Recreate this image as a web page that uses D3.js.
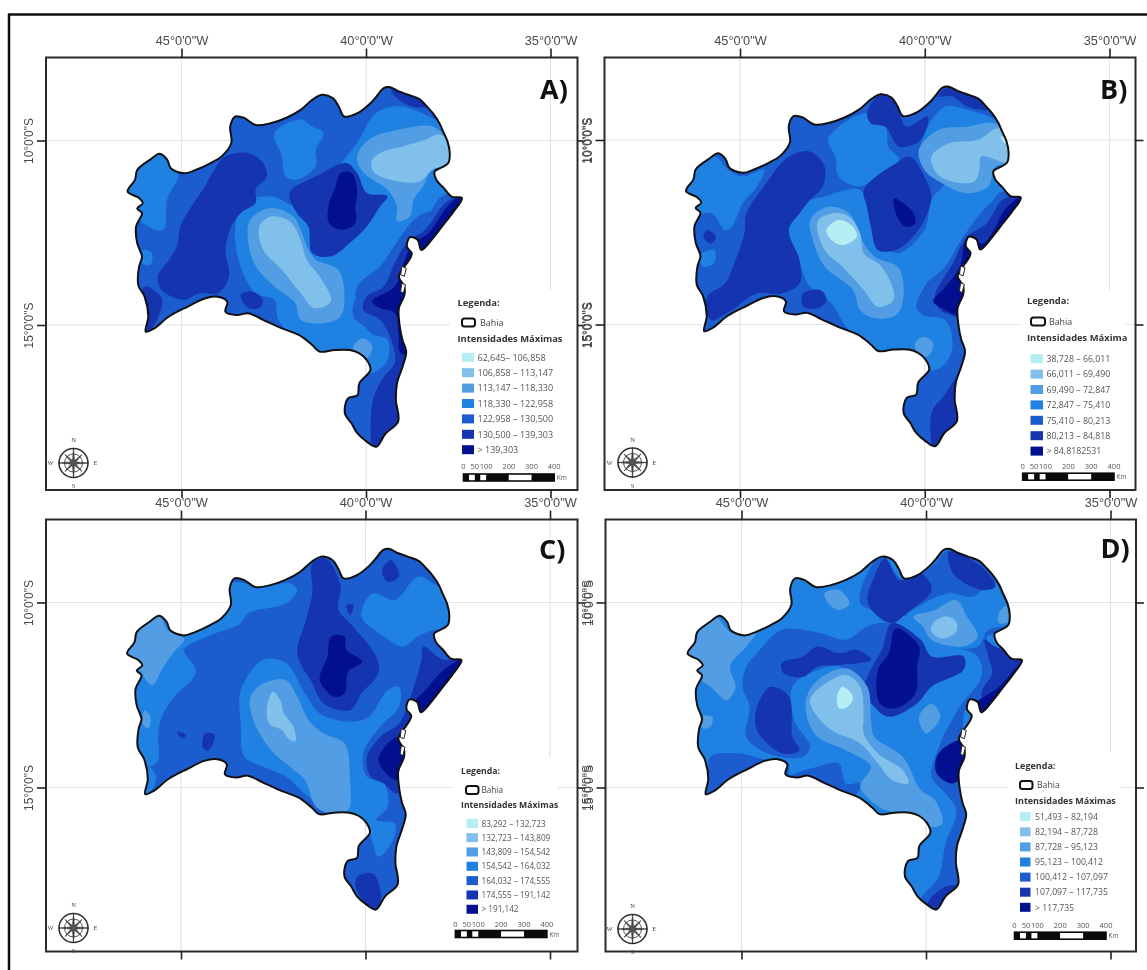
<!DOCTYPE html>
<html>
<head>
<meta charset="utf-8">
<script src="https://cdn.jsdelivr.net/npm/d3@7"></script>
<style>
    html, body { margin: 0; background: #fff; }
    svg { display: block; filter: blur(0.6px); }
</style>
</head>
<body>
<div id="chart"></div>
<script>
// Maximum rainfall intensity over Bahia, four map panels

const lonTicks = [-45, -40, -35];
const latTicks = [-10, -15];

// Legend colours, from lowest to highest class
const levelColors = ["#b4edf2", "#82c0ec", "#529de3", "#1f82e2", "#1b5ccf", "#1534b0", "#02108f"];

// State border in lon / lat
const bahiaOutline = [
    [-39.37,-8.55],[-39.11,-8.67],[-38.86,-8.76],[-38.55,-8.88],[-38.35,-9.08],[-38.19,-9.26],[-38.01,-9.53],[-37.91,-9.76],
    [-37.79,-10.03],[-37.73,-10.34],[-37.77,-10.61],[-37.99,-10.75],[-38.14,-10.84],[-38.09,-11.07],[-37.89,-11.29],[-37.68,-11.52],
    [-37.40,-11.56],[-37.63,-11.93],[-37.94,-12.33],[-38.19,-12.65],[-38.50,-12.97],[-38.60,-12.69],[-38.81,-12.62],[-38.89,-12.88],
    [-38.76,-13.06],[-38.86,-13.28],[-38.96,-13.42],[-39.11,-13.69],[-38.96,-13.96],[-38.96,-14.19],[-39.11,-14.55],[-39.09,-15.0],
    [-39.01,-15.41],[-38.91,-15.72],[-39.01,-16.13],[-39.16,-16.58],[-39.19,-17.03],[-39.13,-17.62],[-39.47,-17.94],[-39.72,-18.30],
    [-39.98,-18.16],[-40.23,-17.94],[-40.39,-17.67],[-40.57,-17.40],[-40.49,-16.99],[-40.23,-16.90],[-40.18,-16.58],[-39.88,-16.22],
    [-39.98,-15.95],[-40.18,-15.77],[-40.44,-15.68],[-40.85,-15.68],[-41.26,-15.72],[-41.46,-15.54],[-41.82,-15.27],[-42.28,-15.09],
    [-42.79,-14.86],[-43.19,-14.68],[-43.50,-14.73],[-43.81,-14.64],[-43.76,-14.37],[-44.06,-14.23],[-44.37,-14.28],[-44.83,-14.50],
    [-45.34,-14.77],[-45.74,-15.09],[-45.97,-15.18],[-45.90,-14.77],[-46.0,-14.23],[-46.17,-13.92],[-46.15,-13.42],[-46.07,-13.15],
    [-46.20,-12.78],[-46.23,-12.33],[-46.07,-11.97],[-46.20,-11.84],[-46.05,-11.70],[-46.15,-11.56],[-46.46,-11.38],[-46.26,-11.07],
    [-46.20,-10.80],[-45.85,-10.52],[-45.59,-10.36],[-45.39,-10.52],[-45.29,-10.75],[-44.93,-10.89],[-44.62,-10.80],[-44.21,-10.61],
    [-43.91,-10.43],[-43.65,-10.07],[-43.68,-9.62],[-43.55,-9.35],[-43.30,-9.39],[-42.99,-9.58],[-42.58,-9.53],[-42.17,-9.39],
    [-41.77,-9.17],[-41.46,-8.90],[-41.20,-8.76],[-40.90,-8.85],[-40.74,-9.08],[-40.59,-9.35],[-40.23,-9.26],[-39.88,-8.99],
    [-39.72,-8.81],[-39.52,-8.58]
];

const coastIslands = [
    [[-39.03,-13.41],[-38.91,-13.46],[-38.96,-13.68],[-39.06,-13.64]],
    [[-39.03,-13.87],[-38.93,-13.91],[-38.99,-14.14],[-39.06,-14.09]]
];

// Class areas: [class index, ring in lon / lat], in painting order
const contoursA = [
    [3, [[-46.56,-10.61],[-45.54,-10.25],[-45.08,-10.88],[-45.39,-11.6],[-45.49,-12.42],[-46.05,-12.24],[-46.56,-11.6]]],
    [3, [[-46.05,-12.96],[-45.8,-13.05],[-45.85,-13.37],[-46.07,-13.32]]],
    [3, [[-42.48,-9.8],[-41.77,-9.43],[-41.46,-9.62],[-41.15,-9.8],[-41.36,-10.25],[-41.36,-10.7],[-41.87,-11.06],[-42.18,-10.97],[-42.28,-10.43]]],
    [3, [[-39.73,-9.25],[-39.12,-9.07],[-38.5,-9.25],[-37.69,-9.8],[-37.38,-10.7],[-37.38,-11.6],[-38.6,-12.06],[-39.12,-12.69],[-39.62,-13.41],[-40.24,-13.96],[-40.24,-14.5],[-39.88,-15.22],[-39.42,-15.4],[-39.42,-15.95],[-39.88,-16.31],[-40.24,-15.85],[-41.26,-15.85],[-41.97,-15.31],[-42.38,-14.86],[-42.48,-14.32],[-42.99,-14.14],[-43.4,-13.41],[-43.55,-12.42],[-43.3,-11.69],[-42.58,-11.51],[-41.77,-11.79],[-40.75,-10.7],[-40.24,-10.07]]],
    [2, [[-40.24,-10.43],[-39.93,-9.98],[-39.12,-9.71],[-38.2,-9.62],[-37.79,-9.98],[-37.58,-10.61],[-38.2,-10.79],[-38.45,-11.24],[-38.71,-11.6],[-38.81,-12.06],[-39.16,-12.19],[-39.16,-11.79],[-39.42,-11.33],[-39.83,-11.06],[-40.13,-10.79]]],
    [1, [[-39.83,-10.52],[-39.52,-10.29],[-39.01,-10.16],[-38.4,-9.98],[-37.99,-9.84],[-37.58,-10.25],[-37.69,-10.61],[-38.2,-10.79],[-38.55,-11.11],[-39.12,-11.11],[-39.62,-10.97],[-39.83,-10.79]]],
    [2, [[-43.14,-12.15],[-42.58,-11.83],[-41.97,-12.06],[-41.77,-12.42],[-41.56,-12.96],[-41.36,-13.23],[-40.75,-13.5],[-40.59,-14.05],[-40.69,-14.77],[-41.15,-14.95],[-41.77,-14.86],[-41.92,-14.41],[-42.48,-13.96],[-42.99,-13.41],[-43.19,-12.78]]],
    [1, [[-42.89,-12.33],[-42.58,-12.06],[-42.07,-12.19],[-41.77,-12.69],[-41.61,-13.23],[-41.26,-13.68],[-40.95,-14.36],[-41.41,-14.54],[-41.77,-14.14],[-42.28,-13.5],[-42.79,-12.96]]],
    [2, [[-40.34,-15.58],[-40.08,-15.36],[-39.83,-15.58],[-39.98,-15.9],[-40.29,-15.85]]],
    [5, [[-43.81,-10.43],[-43.19,-10.34],[-42.79,-10.61],[-42.69,-10.97],[-42.99,-11.33],[-42.99,-11.69],[-43.4,-11.97],[-43.65,-12.33],[-43.81,-12.96],[-43.71,-13.68],[-44.01,-14.14],[-44.52,-14.14],[-44.93,-14.32],[-45.54,-14.05],[-45.64,-13.68],[-45.34,-13.23],[-45.13,-12.87],[-45.03,-12.33],[-44.73,-11.79],[-44.42,-11.33],[-44.11,-10.79]]],
    [5, [[-46.0,-13.96],[-45.54,-14.27],[-45.59,-14.68],[-45.85,-15.13],[-46.1,-15.22]]],
    [5, [[-43.4,-14.18],[-43.09,-14.09],[-42.79,-14.32],[-42.89,-14.54],[-43.19,-14.54]]],
    [5, [[-42.07,-11.42],[-41.36,-10.97],[-40.54,-10.61],[-40.24,-10.88],[-39.98,-11.42],[-39.42,-11.51],[-39.62,-11.79],[-39.98,-12.33],[-40.44,-12.78],[-40.95,-13.14],[-41.46,-13.05],[-41.56,-12.33],[-41.87,-11.97]]],
    [6, [[-40.69,-10.88],[-40.39,-10.88],[-40.24,-11.33],[-40.29,-11.79],[-40.29,-12.24],[-40.64,-12.42],[-41,-12.24],[-41,-11.69],[-40.85,-11.33]]],
    [4, [[-37.3,-11.4],[-37.94,-11.51],[-38.4,-12.15],[-38.96,-12.6],[-39.42,-13.23],[-39.83,-13.96],[-40.24,-14.23],[-40.34,-14.77],[-39.73,-15.22],[-39.27,-15.49],[-39.32,-16.03],[-39.73,-16.4],[-40.13,-16.85],[-40.54,-16.94],[-40.7,-17.48],[-39.73,-18.5],[-38.8,-17.8],[-38.4,-15.76],[-38.4,-13.96],[-37.6,-13.05],[-36.9,-11.3]]],
    [5, [[-37.3,-11.4],[-37.84,-11.69],[-38.4,-12.42],[-38.86,-12.74],[-39.22,-13.32],[-39.52,-13.96],[-39.98,-14.23],[-40.08,-14.59],[-39.62,-14.86],[-39.32,-15.4],[-39.22,-16.03],[-39.52,-16.4],[-39.83,-17.12],[-39.73,-18.5],[-38.8,-17.8],[-38.4,-15.76],[-38.4,-13.96],[-37.6,-13.05],[-36.9,-11.3]]],
    [6, [[-37.3,-11.4],[-37.79,-11.79],[-38.3,-12.51],[-38.76,-12.83],[-39.01,-13.41],[-39.22,-13.96],[-39.83,-14.36],[-39.62,-14.54],[-39.22,-14.68],[-39.12,-15.22],[-39.06,-15.76],[-38.6,-15.76],[-38.4,-13.96],[-37.6,-13.05],[-36.9,-11.3]]],
    [5, [[-39.32,-8.62],[-38.81,-8.76],[-38.3,-9.07],[-38.71,-9.09],[-39.12,-8.89]]]
];

const contoursB = [
    [3, [[-46.47,-10.99],[-45.7,-10.45],[-45.31,-10.81],[-44.93,-10.99],[-44.35,-10.81],[-44.54,-11.26],[-44.93,-11.72],[-45.22,-12.35],[-45.41,-12.44],[-45.75,-11.99],[-46.32,-11.99]]],
    [3, [[-46.13,-13.16],[-45.7,-12.98],[-45.7,-13.34],[-45.99,-13.43]]],
    [3, [[-42.62,-10.0],[-42.33,-9.64],[-41.56,-9.27],[-41.07,-9.55],[-40.98,-10.18],[-40.69,-10.54],[-41.07,-10.81],[-41.75,-11.26],[-42.33,-10.99],[-42.42,-10.45]]],
    [3, [[-39.44,-9.09],[-38.86,-9.18],[-38.09,-9.45],[-37.61,-9.91],[-37.32,-10.63],[-37.7,-11.35],[-38.33,-11.81],[-38.95,-12.62],[-39.44,-13.43],[-40.01,-13.98],[-40.11,-14.7],[-39.44,-14.88],[-39.24,-15.51],[-39.44,-16.06],[-39.82,-16.24],[-40.4,-15.78],[-41.36,-15.78],[-42.13,-15.06],[-42.52,-14.43],[-43.1,-13.98],[-43.39,-13.34],[-43.68,-12.35],[-43.29,-11.72],[-42.71,-11.53],[-41.75,-11.35],[-41.46,-12.17],[-40.78,-13.07],[-40.01,-12.44],[-39.82,-11.62],[-39.44,-11.08],[-40.11,-10.45],[-39.92,-9.64]]],
    [2, [[-40.16,-10.27],[-39.63,-9.73],[-38.86,-9.64],[-38.09,-9.55],[-37.65,-10.0],[-37.65,-10.63],[-38.09,-10.72],[-38.28,-11.26],[-38.86,-11.44],[-39.53,-11.17],[-40.01,-10.81]]],
    [1, [[-39.82,-10.45],[-39.34,-10.09],[-38.57,-10.0],[-37.99,-9.68],[-37.56,-10.09],[-37.65,-10.63],[-38.47,-10.45],[-38.52,-10.81],[-38.67,-11.13],[-39.24,-11.13],[-39.68,-10.9]]],
    [0, [[-37.94,-9.91],[-37.7,-10.0],[-37.78,-10.13]]],
    [2, [[-43.1,-12.17],[-42.62,-11.81],[-42.04,-11.99],[-41.7,-12.71],[-41.36,-13.16],[-40.69,-13.48],[-40.59,-14.34],[-40.78,-14.74],[-41.36,-14.83],[-41.75,-14.61],[-41.94,-14.07],[-42.71,-13.43],[-43.0,-12.8]]],
    [1, [[-42.9,-12.21],[-42.52,-11.99],[-42.04,-12.08],[-41.75,-12.53],[-41.65,-13.07],[-41.17,-13.43],[-40.83,-14.16],[-40.88,-14.38],[-41.27,-14.52],[-41.65,-14.07],[-42.23,-13.43],[-42.71,-12.98]]],
    [0, [[-42.66,-12.44],[-42.33,-12.17],[-41.94,-12.35],[-41.84,-12.62],[-42.23,-12.85],[-42.52,-12.71]]],
    [2, [[-40.26,-15.51],[-40.01,-15.33],[-39.77,-15.51],[-39.92,-15.87],[-40.16,-15.83]]],
    [5, [[-41.56,-9.27],[-41.27,-8.82],[-40.88,-8.78],[-40.69,-9.27],[-40.5,-9.64],[-39.92,-9.36],[-40.11,-10.0],[-40.69,-10.18],[-41.07,-9.64],[-41.46,-9.55]]],
    [5, [[-45.89,-12.44],[-45.65,-12.62],[-45.79,-12.8],[-45.99,-12.62]]],
    [5, [[-43.68,-10.45],[-43.1,-10.31],[-42.71,-10.72],[-42.76,-11.26],[-43.1,-11.62],[-43.39,-11.99],[-43.68,-12.44],[-43.39,-13.25],[-43.39,-13.89],[-43.87,-14.16],[-44.54,-14.16],[-45.22,-14.61],[-45.79,-14.88],[-45.89,-14.25],[-45.41,-13.89],[-45.12,-13.25],[-44.88,-12.53],[-44.83,-11.99],[-44.35,-11.26]]],
    [5, [[-43.29,-14.16],[-42.81,-14.07],[-42.66,-14.34],[-42.9,-14.56],[-43.29,-14.52]]],
    [5, [[-41.65,-11.35],[-40.78,-10.63],[-40.4,-10.45],[-40.01,-10.99],[-39.82,-11.53],[-40.01,-12.17],[-40.4,-12.71],[-40.78,-12.98],[-41.27,-12.98],[-41.46,-12.35],[-41.56,-11.81]]],
    [6, [[-40.83,-11.58],[-40.64,-11.67],[-40.3,-11.99],[-40.26,-12.26],[-40.54,-12.35],[-40.78,-11.99]]],
    [4, [[-37.2,-11.4],[-37.99,-11.44],[-38.38,-12.08],[-38.95,-12.62],[-39.44,-13.43],[-40.11,-14.16],[-40.21,-14.61],[-39.44,-14.88],[-39.24,-15.6],[-39.44,-16.15],[-39.82,-16.42],[-39.82,-16.69],[-40.5,-16.87],[-40.7,-17.32],[-39.68,-18.5],[-38.7,-17.8],[-38.4,-15.78],[-38.4,-14.16],[-37.6,-13],[-36.9,-11.3]]],
    [5, [[-37.2,-11.4],[-37.89,-11.62],[-38.33,-12.26],[-38.86,-12.62],[-39.24,-13.34],[-39.73,-14.25],[-39.58,-14.61],[-39.05,-14.88],[-38.86,-15.78],[-39.44,-16.87],[-39.82,-17.41],[-39.68,-18.5],[-38.7,-17.8],[-38.4,-15.78],[-38.4,-14.16],[-37.6,-13],[-36.9,-11.3]]],
    [6, [[-37.2,-11.4],[-37.8,-11.85],[-38.18,-12.53],[-38.42,-12.8],[-38.86,-12.71],[-39.05,-13.43],[-39.44,-13.98],[-39.77,-14.38],[-39.44,-14.61],[-38.95,-14.8],[-38.5,-14.5],[-37.8,-13.1],[-36.9,-11.3]]],
    [5, [[-39.34,-8.55],[-38.67,-8.82],[-38.18,-9.18],[-38.86,-9.09],[-39.24,-8.82],[-39.63,-8.82]]]
];

const contoursC = [
    [3, [[-43.63,-9.48],[-42.77,-9.57],[-42.05,-9.48],[-41.85,-9.66],[-42.15,-10.02],[-43.18,-10.29],[-43.38,-10.56],[-44.3,-10.92],[-44.91,-11.28],[-44.6,-11.82],[-44.71,-12.1],[-45.11,-12.46],[-45.52,-13.09],[-45.62,-13.63],[-45.62,-14.26],[-45.88,-14.44],[-46.34,-13.99],[-46.54,-11.28],[-45.62,-10.29],[-44.81,-10.83],[-43.79,-10.11]]],
    [3, [[-45.88,-14.44],[-45.68,-14.71],[-45.88,-15.2],[-46.08,-15.2]]],
    [2, [[-46.49,-11.28],[-45.62,-10.29],[-45.37,-10.74],[-44.91,-10.97],[-45.22,-11.37],[-45.52,-11.82],[-45.78,-12.23],[-46.13,-11.82]]],
    [2, [[-45.98,-12.91],[-45.83,-13.09],[-45.88,-13.4],[-46.05,-13.27]]],
    [3, [[-40.11,-10.38],[-39.81,-9.75],[-39.2,-9.93],[-38.58,-9.3],[-38.18,-9.48],[-37.56,-10.02],[-37.56,-10.65],[-38.18,-10.74],[-38.58,-10.92],[-38.99,-11.19],[-39.5,-10.92]]],
    [3, [[-43.38,-12.37],[-42.77,-11.55],[-42.15,-11.64],[-41.64,-12.46],[-41.24,-13.0],[-40.42,-13.22],[-39.91,-13.09],[-39.4,-12.37],[-39.09,-12.28],[-39.09,-12.82],[-39.6,-13.36],[-40.06,-14.08],[-39.96,-14.71],[-39.5,-14.89],[-39.4,-15.52],[-39.71,-15.88],[-39.2,-15.97],[-39.3,-16.51],[-39.65,-16.87],[-39.86,-16.33],[-40.11,-15.88],[-40.93,-15.74],[-41.75,-15.07],[-42.15,-14.71],[-42.77,-14.44],[-43.28,-14.17],[-43.38,-13.27]]],
    [2, [[-43.12,-12.55],[-42.77,-12.19],[-42.15,-12.1],[-41.85,-12.55],[-41.54,-13.18],[-41.13,-13.54],[-40.57,-13.81],[-40.42,-14.8],[-40.47,-15.61],[-40.93,-15.7],[-41.34,-15.52],[-41.64,-14.8],[-42.05,-14.44],[-42.56,-13.99],[-42.87,-13.54],[-43.07,-13.09]]],
    [1, [[-42.67,-12.82],[-42.51,-12.41],[-42.31,-12.64],[-42.21,-13.0],[-41.95,-13.36],[-41.9,-13.76],[-42.1,-13.67],[-42.26,-13.45],[-42.61,-13.27]]],
    [5, [[-41.44,-8.94],[-41.08,-8.81],[-40.68,-9.53],[-40.73,-10.2],[-40.42,-10.56],[-39.71,-11.46],[-39.65,-11.91],[-40.11,-12.46],[-40.42,-12.91],[-41.13,-12.73],[-41.44,-12.19],[-41.85,-11.37],[-41.64,-10.56],[-41.44,-9.75]]],
    [5, [[-39.3,-8.85],[-39.09,-9.3],[-39.4,-9.44],[-39.55,-9.12]]],
    [5, [[-40.52,-10.07],[-40.32,-10.07],[-40.42,-10.34]]],
    [5, [[-45.11,-13.49],[-44.86,-13.58],[-44.96,-13.67]]],
    [5, [[-44.35,-13.54],[-44.09,-13.58],[-44.25,-13.99],[-44.4,-13.94]]],
    [6, [[-40.93,-10.92],[-40.57,-10.92],[-40.52,-11.28],[-40.09,-11.6],[-40.47,-11.87],[-40.57,-12.46],[-40.83,-12.55],[-41.24,-12.1],[-41.03,-11.46]]],
    [5, [[-37.2,-11.4],[-37.87,-11.55],[-38.43,-11.19],[-38.48,-11.55],[-38.69,-12.28],[-38.84,-12.73],[-39.09,-13.27],[-39.6,-13.63],[-39.96,-14.17],[-39.86,-14.71],[-39.5,-14.89],[-39.14,-15.16],[-38.5,-14.8],[-38.2,-13.5],[-37.4,-12.8],[-36.9,-11.3]]],
    [6, [[-37.2,-11.4],[-37.87,-11.82],[-38.38,-12.37],[-38.69,-12.73],[-38.48,-13.0],[-37.8,-13.0],[-36.9,-11.3]]],
    [6, [[-39.4,-13.81],[-39.09,-13.63],[-38.7,-14.1],[-39.14,-14.8],[-39.4,-14.66],[-39.65,-14.26]]],
    [5, [[-40.22,-17.41],[-39.81,-17.32],[-39.6,-17.77],[-39.65,-18.36],[-40.01,-18.13],[-40.27,-17.68]]]
];

const contoursD = [
    [2, [[-46.56,-11.37],[-45.74,-10.38],[-45.26,-10.83],[-44.58,-10.74],[-44.87,-11.19],[-45.31,-11.73],[-45.16,-12.28],[-45.4,-12.64],[-45.84,-12.28],[-46.22,-12.01],[-46.42,-11.64]]],
    [2, [[-46.11,-13.09],[-45.79,-13.09],[-45.84,-13.36],[-46.05,-13.4]]],
    [2, [[-42.75,-9.75],[-42.36,-9.66],[-42.07,-10.02],[-42.36,-10.2],[-42.65,-10.02]]],
    [4, [[-44.58,-11.37],[-43.91,-10.74],[-42.85,-10.83],[-42.17,-11.01],[-41.59,-10.65],[-41.01,-10.56],[-40.72,-10.74],[-41.49,-12.01],[-41.59,-12.55],[-41.88,-12.1],[-42.36,-11.73],[-43.14,-11.91],[-43.62,-12.28],[-43.57,-13.18],[-43.14,-13.9],[-43.33,-14.17],[-44.29,-14.08],[-44.87,-13.63],[-44.78,-12.82],[-44.97,-12.28],[-44.87,-11.73]]],
    [4, [[-45.84,-14.17],[-45.07,-14.08],[-44.29,-14.26],[-43.76,-14.3],[-43.76,-14.71],[-44.39,-14.35],[-45.26,-14.71],[-46.08,-15.29],[-45.93,-14.71]]],
    [4, [[-42.94,-14.44],[-42.36,-14.35],[-42.17,-14.89],[-41.78,-14.89],[-41.98,-15.25],[-42.94,-14.8],[-43.71,-14.71]]],
    [4, [[-41.78,-10.02],[-41.2,-8.72],[-40.63,-9.39],[-39.85,-9.03],[-39.37,-8.58],[-38.31,-9.03],[-37.63,-10.02],[-37.59,-10.74],[-38.36,-10.92],[-38.12,-11.28],[-37.3,-11.6],[-38.21,-12.91],[-38.89,-12.82],[-38.84,-15.07],[-38.84,-15.97],[-39.03,-16.87],[-39.03,-17.68],[-39.71,-18.45],[-40.19,-18.13],[-39.66,-17.41],[-39.47,-16.51],[-39.18,-15.61],[-39.56,-15.07],[-39.85,-14.71],[-39.61,-13.81],[-39.08,-12.82],[-38.5,-12.01],[-38.6,-11.46],[-39.27,-11.19],[-39.85,-11.01],[-40.53,-10.38]]],
    [3, [[-40.53,-10.38],[-40.05,-10.02],[-39.37,-9.75],[-38.7,-9.84],[-38.21,-9.39],[-37.87,-9.93],[-37.59,-10.56],[-38.31,-10.74],[-38.6,-11.19],[-39.47,-11.19],[-39.95,-11.01],[-40.34,-10.74]]],
    [2, [[-40.34,-10.38],[-39.76,-10.2],[-39.18,-9.93],[-38.89,-10.38],[-38.6,-10.92],[-38.98,-11.19],[-39.85,-11.01],[-40.09,-10.65]]],
    [1, [[-39.81,-10.56],[-39.47,-10.37],[-39.18,-10.52],[-39.18,-10.79],[-39.56,-10.97],[-39.85,-10.79]]],
    [2, [[-38.02,-10.29],[-37.78,-10.07],[-37.68,-10.47],[-38.02,-10.56]]],
    [5, [[-41.59,-9.93],[-41.4,-9.3],[-41.11,-8.81],[-40.72,-9.39],[-40.14,-9.21],[-39.85,-9.66],[-40.53,-10.29],[-40.92,-10.56],[-41.4,-10.29]]],
    [5, [[-39.37,-8.63],[-38.5,-9.03],[-38.12,-9.57],[-38.5,-9.66],[-39.27,-9.21]]],
    [5, [[-40.92,-10.56],[-40.14,-11.01],[-39.85,-11.46],[-38.98,-11.46],[-38.98,-11.82],[-39.85,-12.28],[-40.24,-12.73],[-41.01,-13.09],[-41.4,-12.82],[-41.69,-12.37],[-41.59,-12.01],[-41.2,-11.28]]],
    [5, [[-44.58,-12.82],[-44.2,-12.28],[-43.71,-12.55],[-43.62,-13.63],[-43.43,-13.99],[-43.91,-14.08],[-44.58,-13.45]]],
    [5, [[-43.91,-11.64],[-43.33,-11.46],[-42.94,-11.19],[-42.36,-11.37],[-41.88,-11.28],[-41.49,-11.55],[-42.36,-11.69],[-42.94,-11.73],[-43.33,-12.01],[-43.86,-11.91]]],
    [5, [[-38.41,-11.01],[-38.12,-11.19],[-37.3,-11.45],[-36.9,-11.3],[-37.5,-13],[-38.21,-13.1],[-38.5,-12.46],[-38.21,-11.91],[-38.31,-11.46]]],
    [5, [[-39.47,-17.68],[-39.08,-17.68],[-39.71,-18.45],[-39.95,-18.13]]],
    [6, [[-40.82,-10.7],[-40.19,-11.19],[-40.24,-11.73],[-40.29,-12.46],[-40.82,-12.86],[-41.25,-12.73],[-41.3,-11.82],[-41.01,-11.37]]],
    [6, [[-37.2,-11.4],[-38.02,-12.28],[-38.65,-12.77],[-38.3,-13.2],[-37.5,-13],[-36.9,-11.3]]],
    [6, [[-39.47,-13.9],[-38.98,-13.72],[-38.7,-14.2],[-39.27,-14.89],[-39.71,-14.62],[-39.71,-14.17]]],
    [2, [[-43.23,-12.55],[-42.94,-12.1],[-42.17,-11.78],[-41.59,-12.28],[-41.49,-13.18],[-41.4,-13.63],[-40.63,-14.17],[-40.14,-15.07],[-39.76,-15.34],[-39.56,-15.97],[-39.95,-16.06],[-40.53,-15.7],[-41.11,-15.61],[-41.78,-14.98],[-41.49,-14.44],[-42.17,-13.99],[-42.94,-13.63],[-43.23,-13.09]]],
    [1, [[-43.14,-12.64],[-42.85,-12.28],[-42.17,-11.96],[-41.78,-12.28],[-41.69,-13.09],[-41.69,-13.54],[-41.3,-14.08],[-40.63,-14.53],[-40.48,-14.89],[-40.92,-14.8],[-41.3,-14.35],[-41.78,-13.81],[-42.56,-13.45],[-42.94,-13.09]]],
    [0, [[-42.41,-12.55],[-42.27,-12.28],[-41.98,-12.55],[-42.12,-12.82],[-42.36,-12.86]]],
    [2, [[-40.19,-13.09],[-39.85,-12.73],[-39.61,-13.09],[-40.0,-13.54]]]
];

const legendA = ["62,645– 106,858", "106,858 – 113,147", "113,147 – 118,330", "118,330 – 122,958", "122,958 – 130,500", "130,500 – 139,303", "> 139,303"];
const legendB = ["38,728 – 66,011", "66,011 – 69,490", "69,490 – 72,847", "72,847 – 75,410", "75,410 – 80,213", "80,213 – 84,818", "> 84,8182531"];
const legendC = ["83,292 – 132,723", "132,723 – 143,809", "143,809 – 154,542", "154,542 – 164,032", "164,032 – 174,555", "174,555 – 191,142", "> 191,142"];
const legendD = ["51,493 – 82,194", "82,194 – 87,728", "87,728 – 95,123", "95,123 – 100,412", "100,412 – 107,097", "107,097 – 117,735", "> 117,735"];

const scaleKm = [0, 25, 50, 75, 100, 200, 300, 400];
const scaleKmLabels = [0, 50, 100, 200, 300, 400];

// Panel layout on the page
const panels = [
    { tag: "A)", contours: contoursA, legend: legendA, base: 4, left: 46, right: 577.5, top: 57.5, bottom: 490, x45: 181.5, x35: 550.5, y10: 140.5, y15: 325,
      tagX: 540, tagY: 99, rose: [73.5, 463], topLabels: true, rightLabels: true,
      box: [450, 290, 127, 200], head: [457.5, 302.5, 322.5, 339], sym: 462, symW: 13, bahiaX: 480, swX: 462, swW: 12, txtX: 477.5, rowY: 357.3, rowStep: 15.4, font: 9, headFont: 9.4, headName: "Intensidades Máximas", barX: 463.5, barY: 477.5, barW: 90.7, barLabelY: 469 },
    { tag: "B)", contours: contoursB, legend: legendB, base: 4, left: 604.5, right: 1135.5, top: 57.5, bottom: 490, x45: 740, x35: 1109.5, y10: 140, y15: 324.5,
      tagX: 1100, tagY: 99, rose: [632.5, 462.5], topLabels: true, rightLabels: false,
      box: [1020, 290, 105, 200], head: [1027, 300.5, 321.5, 338], sym: 1031, symW: 14, bahiaX: 1049, swX: 1030.5, swW: 12.5, txtX: 1046.5, rowY: 358.7, rowStep: 15.4, font: 8.8, headFont: 9.4, headName: "Intensidades Máxima", barX: 1022.7, barY: 476.7, barW: 91.3, barLabelY: 469 },
    { tag: "C)", contours: contoursC, legend: legendC, base: 4, left: 46, right: 577.5, top: 519.5, bottom: 951.5, x45: 181, x35: 550, y10: 602.5, y15: 787.5,
      tagX: 539, tagY: 559, rose: [73.5, 928], topLabels: true, rightLabels: true,
      box: [453, 757, 105, 195], head: [461, 770.5, 790, 805], sym: 466, symW: 12.5, bahiaX: 481.5, swX: 466.5, swW: 11.5, txtX: 481.5, rowY: 823.3, rowStep: 14.33, font: 8.2, headFont: 8.7, headName: "Intensidades Máximas", barX: 455.4, barY: 934, barW: 91.5, barLabelY: 926.5 },
    { tag: "D)", contours: contoursD, legend: legendD, base: 3, left: 605.5, right: 1136, top: 519.5, bottom: 951.5, x45: 741.5, x35: 1110.5, y10: 602.5, y15: 787.5,
      tagX: 1100.5, tagY: 558, rose: [632.5, 929], topLabels: true, rightLabels: false,
      box: [1008, 752, 112, 200], head: [1015, 765.5, 785, 800.5], sym: 1020, symW: 12.5, bahiaX: 1037, swX: 1020, swW: 10.5, txtX: 1035, rowY: 816.7, rowStep: 15.1, font: 8.7, headFont: 9, headName: "Intensidades Máximas", barX: 1014.5, barY: 935.7, barW: 91.5, barLabelY: 928 }
];

const svg = d3.select("#chart").append("svg").attr("width", 1147).attr("height", 970);

// Outer frame of the figure
svg.append("line").attr("x1", 8).attr("x2", 1147).attr("y1", 14.5).attr("y2", 14.5).attr("stroke", "#111").attr("stroke-width", 2.5);
svg.append("line").attr("x1", 9).attr("x2", 9).attr("y1", 14).attr("y2", 970).attr("stroke", "#111").attr("stroke-width", 2.5);

const formatLon = d => Math.abs(d) + "°0'0\"W";
const formatLat = d => Math.abs(d) + "°0'0\"S";

panels.forEach((p, i) => {
    const x = d3.scaleLinear().domain([-45, -35]).range([p.x45, p.x35]);
    const y = d3.scaleLinear().domain([-10, -15]).range([p.y10, p.y15]);
    const g = svg.append("g");

    const ring = d3.line().x(d => x(d[0])).y(d => y(d[1])).curve(d3.curveLinearClosed);
    const smooth = d3.line().x(d => x(d[0])).y(d => y(d[1])).curve(d3.curveCatmullRomClosed.alpha(0.5));
    const outlinePath = smooth(bahiaOutline);

    // Graticule
    g.selectAll("line.lon").data(lonTicks).enter().append("line")
        .attr("x1", d => x(d)).attr("x2", d => x(d)).attr("y1", p.top).attr("y2", p.bottom)
        .attr("stroke", "#e3e3e3").attr("stroke-width", 1.2);
    g.selectAll("line.lat").data(latTicks).enter().append("line")
        .attr("x1", p.left).attr("x2", p.right).attr("y1", d => y(d)).attr("y2", d => y(d))
        .attr("stroke", "#e3e3e3").attr("stroke-width", 1.2);

    // Legend background hides the graticule
    g.append("rect").attr("x", p.box[0]).attr("y", p.box[1]).attr("width", p.box[2]).attr("height", p.box[3]).attr("fill", "#fff");

    // Map: class areas clipped to the state
    g.append("clipPath").attr("id", "clip" + i).append("path").attr("d", outlinePath);
    const map = g.append("g").attr("clip-path", "url(#clip" + i + ")");
    map.append("path").attr("d", outlinePath).attr("fill", levelColors[p.base]);
    map.selectAll("path.area").data(p.contours).enter().append("path")
        .attr("class", "area")
        .attr("d", d => smooth(d[1]))
        .attr("fill", d => levelColors[d[0]]);

    g.append("path").attr("d", outlinePath).attr("fill", "none").attr("stroke", "#111").attr("stroke-width", 2).attr("stroke-linejoin", "round");
    g.selectAll("path.island").data(coastIslands).enter().append("path")
        .attr("class", "island")
        .attr("d", d => ring(d))
        .attr("fill", "#fff").attr("stroke", "#222").attr("stroke-width", 1);

    // Frame
    g.append("rect").attr("x", p.left).attr("y", p.top).attr("width", p.right - p.left).attr("height", p.bottom - p.top)
        .attr("fill", "none").attr("stroke", "#2b2b2b").attr("stroke-width", 2);

    // Axes
    const styleAxis = sel => {
        sel.select(".domain").remove();
        sel.selectAll("line").attr("stroke", "#222").attr("stroke-width", 1.6);
        sel.selectAll("text").attr("fill", "#4a4a4a").attr("font-family", "'Liberation Sans', Arial, sans-serif");
    };
    g.append("g").attr("transform", "translate(0," + p.top + ")")
        .call(d3.axisTop(x).tickValues(lonTicks).tickSize(9).tickPadding(4).tickFormat(formatLon))
        .call(styleAxis)
        .selectAll("text").attr("font-size", 12.8);
    g.append("g").attr("transform", "translate(0," + p.bottom + ")")
        .call(d3.axisBottom(x).tickValues(lonTicks).tickSize(8).tickFormat(() => ""))
        .call(styleAxis);
    g.append("g").attr("transform", "translate(" + p.left + ",0)")
        .call(d3.axisLeft(y).tickValues(latTicks).tickSize(9).tickFormat(formatLat))
        .call(styleAxis)
        .selectAll("text").attr("font-size", 12).attr("x", 0).attr("dy", 0).attr("y", -13)
        .attr("text-anchor", "middle").attr("transform", "rotate(-90)");
    const rightAxis = g.append("g").attr("transform", "translate(" + p.right + ",0)")
        .call(d3.axisRight(y).tickValues(latTicks).tickSize(8).tickFormat(p.rightLabels ? formatLat : () => ""))
        .call(styleAxis);
    rightAxis.selectAll("text").attr("font-size", 12).attr("x", 0).attr("dy", 0).attr("y", 13)
        .attr("text-anchor", "middle").attr("transform", "rotate(-90)");

    // Panel letter
    g.append("text").attr("x", p.tagX).attr("y", p.tagY).text(p.tag)
        .attr("font-family", "'Open Sans', sans-serif").attr("font-weight", 700).attr("font-size", 27).attr("fill", "#111");

    // Legend
    const legendFont = "'Open Sans', sans-serif";
    g.append("text").attr("x", p.head[0]).attr("y", p.head[1] + 3).text("Legenda:")
        .attr("font-family", legendFont).attr("font-weight", 700).attr("font-size", p.headFont).attr("fill", "#333");
    g.append("rect").attr("x", p.sym).attr("y", p.head[2] - 4).attr("width", p.symW).attr("height", 8).attr("rx", 2.5)
        .attr("fill", "#fff").attr("stroke", "#111").attr("stroke-width", 2);
    g.append("text").attr("x", p.bahiaX).attr("y", p.head[2] + 3).text("Bahia")
        .attr("font-family", legendFont).attr("font-size", p.font).attr("fill", "#444");
    g.append("text").attr("x", p.head[0]).attr("y", p.head[3] + 3).text(p.headName)
        .attr("font-family", legendFont).attr("font-weight", 700).attr("font-size", p.headFont).attr("fill", "#333");

    g.selectAll("rect.sw").data(p.legend).enter().append("rect")
        .attr("class", "sw")
        .attr("x", p.swX).attr("y", (d, k) => p.rowY + k * p.rowStep - 4.5)
        .attr("width", p.swW).attr("height", 9)
        .attr("fill", (d, k) => levelColors[k]);
    g.selectAll("text.sw").data(p.legend).enter().append("text")
        .attr("class", "sw")
        .attr("x", p.txtX).attr("y", (d, k) => p.rowY + k * p.rowStep + 3.2)
        .text(d => d)
        .attr("font-family", legendFont).attr("font-size", p.font).attr("fill", "#555");

    // Scale bar
    const km = d3.scaleLinear().domain([0, 400]).range([p.barX, p.barX + p.barW]);
    g.selectAll("rect.bar").data(d3.pairs(scaleKm)).enter().append("rect")
        .attr("class", "bar")
        .attr("x", d => km(d[0])).attr("y", p.barY - 3.5)
        .attr("width", d => km(d[1]) - km(d[0])).attr("height", 7)
        .attr("fill", (d, k) => k % 2 ? "#fff" : "#0a0a0a");
    g.append("rect").attr("x", p.barX).attr("y", p.barY - 3.5).attr("width", p.barW).attr("height", 7)
        .attr("fill", "none").attr("stroke", "#0a0a0a").attr("stroke-width", 1.6);
    g.selectAll("text.bar").data(scaleKmLabels).enter().append("text")
        .attr("class", "bar")
        .attr("x", d => km(d)).attr("y", p.barLabelY)
        .attr("text-anchor", "middle")
        .text(d => d)
        .attr("font-family", legendFont).attr("font-size", 7.5).attr("fill", "#555");
    g.append("text").attr("x", p.barX + p.barW + 2.5).attr("y", p.barY + 2.5).text("Km")
        .attr("font-family", legendFont).attr("font-size", 6.5).attr("fill", "#555");

    // North arrow
    const rose = g.append("g").attr("transform", "translate(" + p.rose[0] + "," + p.rose[1] + ")");
    rose.append("circle").attr("r", 14.5).attr("fill", "#fff").attr("stroke", "#333").attr("stroke-width", 1.6);
    rose.append("circle").attr("r", 9).attr("fill", "none").attr("stroke", "#555").attr("stroke-width", 1);
    const petals = d3.range(16).map(k => [k * Math.PI / 8, k % 4 === 0 ? 15 : (k % 2 === 0 ? 12 : 2.5)]);
    rose.append("path").attr("d", d3.lineRadial().curve(d3.curveLinearClosed)(petals)).attr("fill", "#555").attr("stroke", "#222").attr("stroke-width", 0.6);
    const roseLetters = [["N", 0, -21], ["S", 0, 25], ["W", -23, 2], ["E", 22, 2]];
    rose.selectAll("text").data(roseLetters).enter().append("text")
        .attr("x", d => d[1]).attr("y", d => d[2]).attr("text-anchor", "middle")
        .text(d => d[0])
        .attr("font-family", "'Liberation Serif', serif").attr("font-size", 6.5).attr("fill", "#444");
});
</script>
</body>
</html>
